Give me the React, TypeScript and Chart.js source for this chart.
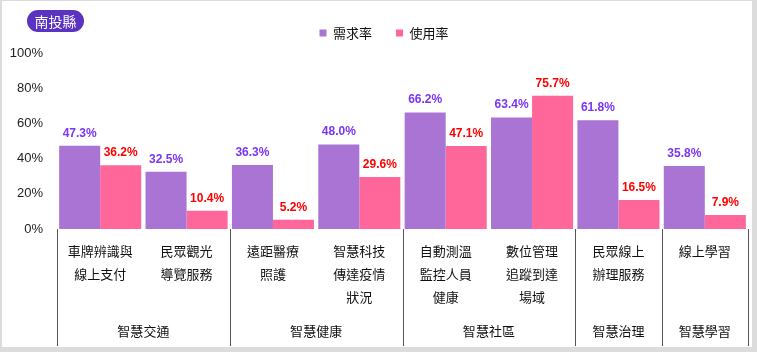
import React, { useEffect, useRef } from "react";
import { Chart, registerables } from "chart.js";

Chart.register(...registerables);

const categories: string[][] = [
  ["車牌辨識與", "線上支付"],
  ["民眾觀光", "導覽服務"],
  ["遠距醫療", "照護"],
  ["智慧科技", "傳達疫情", "狀況"],
  ["自動測溫", "監控人員", "健康"],
  ["數位管理", "追蹤到達", "場域"],
  ["民眾線上", "辦理服務"],
  ["線上學習"],
];
const demandRate = [47.3, 32.5, 36.3, 48.0, 66.2, 63.4, 61.8, 35.8];
const usageRate = [36.2, 10.4, 5.2, 29.6, 47.1, 75.7, 16.5, 7.9];
const groupLabels = ["智慧交通", "智慧健康", "智慧社區", "智慧治理", "智慧學習"];
const groupSpans = [2, 2, 2, 1, 1];
const seriesNames = ["需求率", "使用率"];
const yMin = 0;
const yMax = 100;
const yStep = 20;

const CJK = '"Noto Sans CJK TC", "Noto Sans CJK SC", sans-serif';
const LAT = '"Liberation Sans", Arial, sans-serif';
const labelColors = ["#7B35F5", "#FF0000"];

const valueLabelPlugin = {
  id: "valueLabels",
  afterDatasetsDraw(chart: any) {
    const ctx = chart.ctx;
    ctx.save();
    ctx.font = `bold 12px ${LAT}`;
    ctx.textAlign = "center";
    ctx.textBaseline = "middle";
    chart.data.datasets.forEach((ds: any, di: number) => {
      const meta = chart.getDatasetMeta(di);
      ctx.fillStyle = labelColors[di];
      meta.data.forEach((bar: any, i: number) => {
        const v = ds.data[i] as number;
        ctx.fillText(v.toFixed(1) + "%", bar.x, bar.y - 12.5);
      });
    });
    ctx.restore();
  },
};

const legendShiftPlugin = {
  id: "legendShift",
  afterLayout(chart: any) {
    if (chart.legend) chart.legend.left += 16;
  },
};

const groupPlugin = {
  id: "groupAxis",
  afterDraw(chart: any) {
    const x = chart.scales.x;
    const ctx = chart.ctx;
    const n = categories.length;
    const cw = (x.right - x.left) / n;
    const top = chart.chartArea.bottom;
    const bottom = 346;
    ctx.save();
    ctx.strokeStyle = "#555";
    ctx.lineWidth = 1;
    ctx.font = `13px ${CJK}`;
    ctx.fillStyle = "#111";
    ctx.textAlign = "center";
    ctx.textBaseline = "middle";
    let idx = 0;
    const drawLine = (px: number) => {
      const xx = Math.round(px) + 0.5;
      ctx.beginPath();
      ctx.moveTo(xx, top);
      ctx.lineTo(xx, bottom);
      ctx.stroke();
    };
    drawLine(x.getPixelForValue(0) - cw / 2);
    groupSpans.forEach((span, g) => {
      const start = x.getPixelForValue(idx) - cw / 2;
      const end = x.getPixelForValue(idx + span - 1) + cw / 2;
      drawLine(end);
      ctx.fillText(groupLabels[g], (start + end) / 2, 331);
      idx += span;
    });
    ctx.restore();
  },
};

export default function App() {
  const ref = useRef<HTMLCanvasElement>(null);
  useEffect(() => {
    if (!ref.current) return;
    const chart = new Chart(ref.current, {
      type: "bar",
      data: {
        labels: categories,
        datasets: [
          {
            label: seriesNames[0],
            data: demandRate,
            backgroundColor: "#A974D3",
            categoryPercentage: 0.95,
            barPercentage: 1,
          },
          {
            label: seriesNames[1],
            data: usageRate,
            backgroundColor: "#FF6699",
            categoryPercentage: 0.95,
            barPercentage: 1,
          },
        ],
      },
      options: {
        animation: false,
        responsive: false,
        maintainAspectRatio: false,
        layout: { padding: { top: 2.5, left: 4, right: 9, bottom: 0 } },
        plugins: {
          legend: {
            position: "top",
            labels: {
              boxWidth: 7,
              boxHeight: 7,
              padding: 24,
              color: "#111",
              font: { size: 13, family: CJK },
            },
          },
          subtitle: {
            display: true,
            text: "",
            position: "top",
            weight: 500,
            font: { size: 1, lineHeight: 1 },
            padding: { top: 2.5, bottom: 0 },
          } as any,
          tooltip: { enabled: false },
        },
        scales: {
          x: {
            grid: { display: false, drawTicks: false },
            border: { display: false },
            ticks: {
              padding: 11,
              color: "#111",
              autoSkip: false,
              maxRotation: 0,
              font: { size: 13, family: CJK, lineHeight: 23 / 13 },
            },
            afterFit: (scale: any) => {
              scale.height = 123;
            },
          },
          y: {
            min: yMin,
            max: yMax,
            grid: { display: false, drawTicks: false },
            border: { display: false },
            ticks: {
              stepSize: yStep,
              padding: 14,
              color: "#222",
              font: { size: 13, family: LAT },
              callback: (v: any) => v + "%",
            },
            afterFit: (scale: any) => {
              scale.width = 53;
            },
          },
        },
      },
      plugins: [valueLabelPlugin, groupPlugin, legendShiftPlugin],
    });
    return () => chart.destroy();
  }, []);

  return (
    <div style={{ position: "absolute", left: 0, top: 0, width: 757, height: 352, background: "#dcdcdc" }}>
      <div style={{ position: "absolute", left: 2, top: 1, width: 750, height: 346, background: "#fff" }} />
      <canvas ref={ref} width={757} height={352} style={{ position: "absolute", left: 0, top: 0, width: 757, height: 352 }} />
      <div
        style={{
          position: "absolute",
          left: 27,
          top: 10,
          width: 57,
          height: 22,
          borderRadius: 11,
          background: "#5B33C1",
          color: "#fff",
          fontFamily: CJK,
          fontSize: 14,
          lineHeight: "22px",
          textAlign: "center",
        }}
      >
        南投縣
      </div>
    </div>
  );
}
